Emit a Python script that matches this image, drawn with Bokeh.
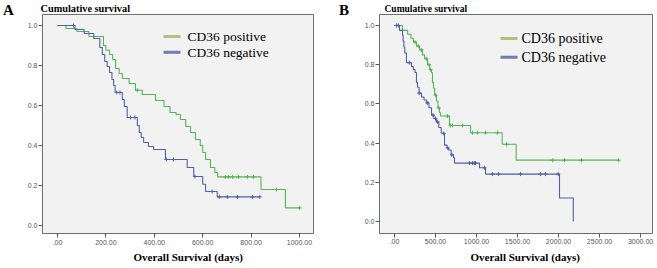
import numpy as np
from bokeh.plotting import figure
from bokeh.models import Range1d, FixedTicker, PrintfTickFormatter, Label, Title, Div
from bokeh.layouts import row, column
from bokeh.embed import file_html
from bokeh.resources import INLINE

# ---------------- data: panel A ----------------
a_pos_t = [0, 35, 80, 130, 190, 200, 215, 228, 240, 255, 268, 296, 322, 350, 405, 440, 465,
           490, 508, 530, 550, 570, 590, 600, 612, 632, 650, 662, 841, 942, 1001]
a_pos_s = [1.0, 0.985, 0.97, 0.945, 0.90, 0.876, 0.855, 0.83, 0.785, 0.76, 0.735, 0.71, 0.676,
           0.655, 0.625, 0.595, 0.565, 0.555, 0.53, 0.495, 0.465, 0.43, 0.40, 0.365, 0.33, 0.29,
           0.265, 0.243, 0.18, 0.088, 0.088]
a_pos_cens = [330, 694, 707, 723, 748, 785, 810, 905, 1001]

a_neg_t = [0, 72, 110, 150, 175, 185, 195, 205, 215, 225, 232, 238, 268, 276, 288, 330, 338, 346,
           356, 376, 397, 446, 536, 563, 600, 612, 660, 836]
a_neg_s = [1.0, 0.98, 0.96, 0.935, 0.89, 0.855, 0.82, 0.795, 0.765, 0.73, 0.70, 0.665, 0.63, 0.595,
           0.54, 0.50, 0.465, 0.44, 0.415, 0.395, 0.38, 0.33, 0.29, 0.245, 0.206, 0.17, 0.143, 0.143]
a_neg_cens = [66, 245, 258, 302, 320, 450, 479, 568, 639, 669, 702, 744, 806, 836]

a_xticks = [0, 200, 400, 600, 800, 1000]
a_xlabels = [".00", "200.00", "400.00", "600.00", "800.00", "1000.00"]

# ---------------- data: panel B ----------------
b_pos_t = [0, 98, 160, 200, 230, 268, 305, 340, 366, 402, 430, 451, 463, 475, 490, 512, 530, 549,
           561, 670, 927, 1313, 1484, 2732]
b_pos_s = [1.0, 0.975, 0.955, 0.935, 0.915, 0.895, 0.875, 0.85, 0.83, 0.80, 0.775, 0.76, 0.71,
           0.68, 0.645, 0.615, 0.58, 0.555, 0.538, 0.49, 0.453, 0.394, 0.313, 0.313]
b_pos_cens = [30, 250, 290, 330, 390, 420, 440, 500, 540, 646, 683, 707, 829, 951, 1012, 1110,
              1256, 1366, 1929, 2073, 2280, 2732]

b_neg_t = [0, 61, 98, 105, 115, 125, 146, 207, 230, 250, 268, 280, 300, 329, 360, 390, 420, 451,
           480, 512, 540, 570, 610, 640, 659, 690, 720, 732, 1037, 1110, 2012, 2180]
b_neg_s = [1.0, 0.975, 0.95, 0.92, 0.89, 0.86, 0.81, 0.79, 0.775, 0.76, 0.71, 0.685, 0.655, 0.635,
           0.62, 0.605, 0.58, 0.543, 0.525, 0.508, 0.48, 0.45, 0.39, 0.375, 0.365, 0.34, 0.325,
           0.298, 0.274, 0.242, 0.12, 0.0]
b_neg_cens = [25, 50, 180, 300, 400, 470, 500, 525, 600, 650, 700, 915, 951, 976, 988, 1098, 1195,
              1268, 1537, 1780, 1841, 1997]

b_xticks = [0, 500, 1000, 1500, 2000, 2500, 3000]
b_xlabels = [".00", "500.00", "1000.00", "1500.00", "2000.00", "2500.00", "3000.00"]

y_ticks = [0.0, 0.2, 0.4, 0.6, 0.8, 1.0]
series_names = ["CD36 positive", "CD36 negative"]
panel_letters = ["A", "B"]

GREEN = "#55b455"
BLUE = "#4f60a8"
GREEN_SW = "#b5c07a"
BLUE_SW = "#6a80ad"
SERIF = "Liberation Serif"
SANS = "Liberation Sans"


def level_at(times, t, s):
    idx = np.searchsorted(np.array(t), np.array(times), side="right") - 1
    return [s[i] for i in idx]


def make_panel(pos_t, pos_s, pos_c, neg_t, neg_s, neg_c, xticks, xlabels,
               xr, yr, width, borders, cfg):
    bl, br, bt, bb = borders
    fw = width - bl - br
    fh = 268 - bt - bb
    p = figure(width=width, height=268, output_backend="svg", toolbar_location=None,
               x_range=Range1d(*xr), y_range=Range1d(*yr),
               min_border_left=bl, min_border_right=br, min_border_top=bt, min_border_bottom=bb)
    p.background_fill_color = "#f2f2f2"
    p.border_fill_color = "white"
    p.outline_line_color = "#6e6e6e"
    p.outline_line_width = 1
    p.grid.visible = False

    def dx(px):
        return xr[0] + (px - bl) / fw * (xr[1] - xr[0])

    def dy(py):
        return yr[1] - (py - bt) / fh * (yr[1] - yr[0])

    for ax in (p.xaxis[0], p.yaxis[0]):
        ax.axis_line_color = None
        ax.major_tick_line_color = "#555555"
        ax.major_tick_out = 4
        ax.major_tick_in = 0
        ax.minor_tick_line_color = None
        ax.major_label_text_font = SANS
        ax.major_label_text_font_size = "7px"
        ax.major_label_text_color = "#555555"
    p.xaxis.ticker = FixedTicker(ticks=xticks)
    p.xaxis.major_label_overrides = {t: l for t, l in zip(xticks, xlabels)}
    p.xaxis.major_label_standoff = cfg["x_standoff"]
    p.yaxis.ticker = FixedTicker(ticks=y_ticks)
    p.yaxis.formatter = PrintfTickFormatter(format="%.1f")
    p.yaxis.major_label_standoff = 1

    p.step(pos_t, pos_s, mode="after", line_color=GREEN, line_width=1.1)
    p.step(neg_t, neg_s, mode="after", line_color=BLUE, line_width=1.1)
    p.scatter(pos_c, level_at(pos_c, pos_t, pos_s), marker="cross", size=4,
              line_color=GREEN, line_width=1)
    p.scatter(neg_c, level_at(neg_c, neg_t, neg_s), marker="cross", size=4,
              line_color=BLUE, line_width=1)

    # legend (swatch + text), inside the frame
    sx0, sx1, tx = cfg["leg_x"]
    for name, col, yy in zip(series_names, [GREEN_SW, BLUE_SW], cfg["leg_y"]):
        p.segment(x0=[dx(sx0)], y0=[dy(yy)], x1=[dx(sx1)], y1=[dy(yy)],
                  line_color=col, line_width=3)
        p.add_layout(Label(x=dx(tx), y=dy(yy), text=name, text_font=SERIF,
                           text_font_size=cfg["leg_font"], text_align="left",
                           text_baseline="middle", text_color="black"))

    # titles outside the frame
    p.add_layout(Title(text="Cumulative survival", align="left", offset=cfg["title_off"],
                       standoff=cfg["title_standoff"], text_font=SERIF, text_font_style="bold",
                       text_font_size=cfg["title_font"], text_color="black"), "above")
    p.add_layout(Title(text="Overall Survival (days)", align="left", offset=91,
                       standoff=cfg["xlab_standoff"], text_font=SERIF, text_font_style="bold",
                       text_font_size="11px", text_color="black"), "below")
    return p


cfgA = dict(x_standoff=2, leg_x=(163, 180, 187), leg_y=(36, 52), leg_font="13.5px",
            title_off=-2, title_font="10.3px", title_standoff=1, xlab_standoff=2)
cfgB = dict(x_standoff=1, leg_x=(173, 190, 194), leg_y=(37, 56), leg_font="14px",
            title_off=5, title_font="9.5px", title_standoff=2, xlab_standoff=4)

pA = make_panel(a_pos_t, a_pos_s, a_pos_cens, a_neg_t, a_neg_s, a_neg_cens,
                a_xticks, a_xlabels, (-62, 1058), (-0.04, 1.055), 327, (42, 14, 14, 34), cfgA)
pB = make_panel(b_pos_t, b_pos_s, b_pos_cens, b_neg_t, b_neg_s, b_neg_cens,
                b_xticks, b_xlabels, (-183, 3146), (-0.061, 1.056), 330, (52, 5, 13, 35), cfgB)

letter_style = {"font-family": "'Liberation Serif', serif", "font-weight": "bold",
                "font-size": "15px", "line-height": "15px", "color": "black"}
divA = Div(text=panel_letters[0], width=20, height=16, margin=(3, 0, 0, 3), styles=letter_style)
divB = Div(text=panel_letters[1], width=20, height=16, margin=(3, 0, 0, 316), styles=letter_style)

plots = row(pA, pB, spacing=0, margin=(0, 0, 0, 0))
letters = row(divA, divB, spacing=0, margin=(-268, 0, 0, 0))
layout = column(plots, letters, spacing=0, margin=(0, 0, 0, 0))
open("out.html", "w").write(file_html(layout, INLINE))
